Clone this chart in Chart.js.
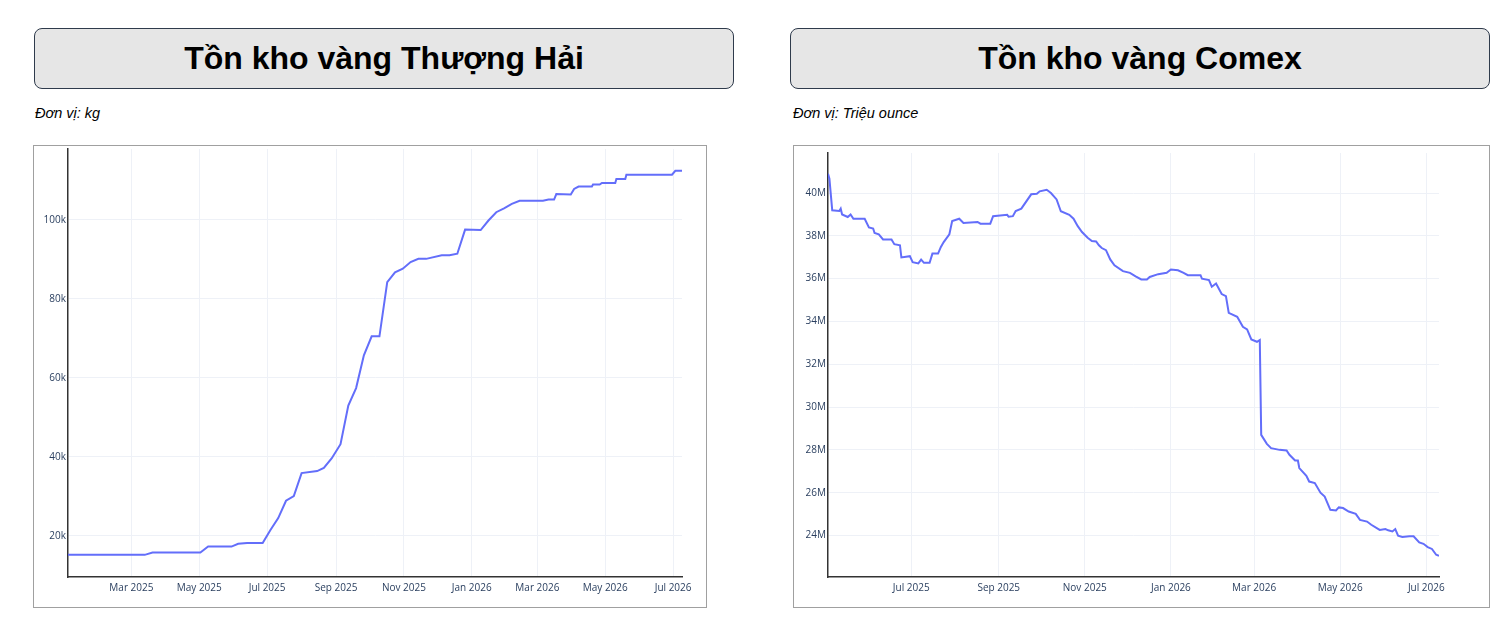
<!DOCTYPE html>
<html lang="vi">
<head>
<meta charset="utf-8">
<title>Tồn kho vàng</title>
<script src="https://cdn.jsdelivr.net/npm/chart.js@4.4.1/dist/chart.umd.min.js"></script>
<style>
    body { margin: 0; background: #fff; font-family: "Liberation Sans", Arial, sans-serif; }
    .title-box {
        position: absolute; top: 28px; height: 61px; box-sizing: border-box;
        border: 1px solid #2f3b4c; border-radius: 8px; background: #e6e6e6;
        display: flex; align-items: center; justify-content: center;
        font-weight: bold; font-size: 32px; color: #000;
    }
    .unit { position: absolute; top: 105px; font-size: 14.5px; font-style: italic; color: #000; }
    .chart-box { position: absolute; top: 145px; height: 463px; box-sizing: border-box; border: 1px solid #a0a0a0; }
    .chart-box canvas { display: block; }
</style>
</head>
<body>
<div class="title-box" style="left:34px;width:700px;">Tồn kho vàng Thượng Hải</div>
<div class="unit" style="left:35px;">Đơn vị: kg</div>
<div class="chart-box" style="left:33px;width:674px;"><canvas id="shanghai-chart" width="672" height="461"></canvas></div>

<div class="title-box" style="left:790px;width:700px;">Tồn kho vàng Comex</div>
<div class="unit" style="left:793px;">Đơn vị: Triệu ounce</div>
<div class="chart-box" style="left:793px;width:697px;"><canvas id="comex-chart" width="695" height="461"></canvas></div>

<script>
// Shanghai gold inventory (kg), weekly
const shanghaiDates = ['2025-01-03','2025-03-13','2025-03-20','2025-05-02','2025-05-09','2025-05-30','2025-06-05','2025-06-13','2025-06-27','2025-07-04',
    '2025-07-11','2025-07-18','2025-07-25','2025-08-01','2025-08-15','2025-08-21','2025-08-28','2025-09-05','2025-09-12','2025-09-19',
    '2025-09-26','2025-10-03','2025-10-10','2025-10-17','2025-10-24','2025-10-31','2025-11-07','2025-11-14','2025-11-21','2025-12-05',
    '2025-12-12','2025-12-19','2025-12-26','2026-01-09','2026-01-16','2026-01-23','2026-01-30','2026-02-06','2026-02-13','2026-03-06',
    '2026-03-11','2026-03-16','2026-03-18','2026-03-31','2026-04-03','2026-04-07','2026-04-19','2026-04-20','2026-04-26','2026-04-28',
    '2026-05-10','2026-05-11','2026-05-19','2026-05-20','2026-06-30','2026-07-03','2026-07-09'];
const shanghaiValues = [15200,15200,15800,15800,17300,17300,18000,18200,18200,21500,
    24500,28900,30100,35900,36400,37200,39600,43200,53000,57400,
    65700,70500,70500,84200,86700,87600,89300,90100,90100,91000,
    91000,91400,97500,97400,99800,101900,102900,104000,104800,104800,
    105100,105100,106500,106400,107800,108400,108400,108900,108900,109300,
    109300,110300,110300,111400,111400,112400,112400];
const shanghaiXTicks = ['2025-03-01','2025-05-01','2025-07-01','2025-09-01','2025-11-01','2026-01-01','2026-03-01','2026-05-01','2026-07-01'];
const shanghaiYTicks = [20000, 40000, 60000, 80000, 100000];

// Comex gold inventory (million oz)
const comexDates = ['2025-05-03','2025-05-04','2025-05-06','2025-05-11','2025-05-12','2025-05-13','2025-05-17','2025-05-19','2025-05-21','2025-05-29',
    '2025-06-01','2025-06-04','2025-06-05','2025-06-08','2025-06-11','2025-06-17','2025-06-19','2025-06-23','2025-06-24','2025-06-30',
    '2025-07-02','2025-07-06','2025-07-08','2025-07-10','2025-07-14','2025-07-16','2025-07-20','2025-07-22','2025-07-24','2025-07-28',
    '2025-07-30','2025-08-04','2025-08-07','2025-08-17','2025-08-19','2025-08-26','2025-08-28','2025-09-07','2025-09-08','2025-09-11',
    '2025-09-13','2025-09-17','2025-09-24','2025-09-28','2025-09-30','2025-10-05','2025-10-08','2025-10-12','2025-10-15','2025-10-21',
    '2025-10-24','2025-10-27','2025-10-30','2025-11-03','2025-11-06','2025-11-09','2025-11-11','2025-11-13','2025-11-16','2025-11-19',
    '2025-11-22','2025-11-28','2025-12-03','2025-12-07','2025-12-11','2025-12-15','2025-12-17','2025-12-23','2025-12-29','2026-01-01',
    '2026-01-06','2026-01-10','2026-01-13','2026-01-22','2026-01-23','2026-01-28','2026-01-30','2026-02-02','2026-02-06','2026-02-09',
    '2026-02-11','2026-02-17','2026-02-21','2026-02-24','2026-02-27','2026-03-03','2026-03-05','2026-03-06','2026-03-10','2026-03-13',
    '2026-03-19','2026-03-24','2026-03-26','2026-03-30','2026-04-01','2026-04-02','2026-04-07','2026-04-09','2026-04-13','2026-04-17',
    '2026-04-20','2026-04-24','2026-04-28','2026-04-30','2026-05-03','2026-05-07','2026-05-12','2026-05-15','2026-05-20','2026-05-23',
    '2026-05-29','2026-06-02','2026-06-04','2026-06-07','2026-06-09','2026-06-11','2026-06-14','2026-06-19','2026-06-22','2026-06-26',
    '2026-06-29','2026-07-02','2026-07-05','2026-07-08','2026-07-10'];
const comexValues = [40.90,40.67,39.19,39.16,39.27,39.00,38.88,39.00,38.80,38.80,
    38.39,38.34,38.13,38.07,37.83,37.83,37.61,37.56,36.99,37.05,
    36.77,36.71,36.89,36.74,36.74,37.17,37.17,37.48,37.71,38.07,
    38.69,38.80,38.60,38.65,38.57,38.57,38.92,38.98,38.89,38.92,
    39.16,39.27,39.94,39.97,40.08,40.15,40.00,39.70,39.15,38.98,
    38.80,38.45,38.18,37.91,37.76,37.74,37.56,37.43,37.33,36.90,
    36.62,36.35,36.27,36.11,35.96,35.96,36.08,36.21,36.27,36.43,
    36.39,36.27,36.16,36.16,36.00,35.93,35.62,35.77,35.28,35.18,
    34.40,34.22,33.75,33.63,33.16,33.05,33.13,28.70,28.28,28.08,
    28.00,27.97,27.77,27.50,27.50,27.15,26.79,26.52,26.45,26.00,
    25.82,25.20,25.17,25.31,25.28,25.12,25.01,24.73,24.65,24.50,
    24.26,24.30,24.24,24.19,24.30,23.99,23.93,23.96,23.96,23.68,
    23.61,23.46,23.37,23.10,23.05];
const comexXTicks = ['2025-07-01','2025-09-01','2025-11-01','2026-01-01','2026-03-01','2026-05-01','2026-07-01'];
const comexYTicks = [24, 26, 28, 30, 32, 34, 36, 38, 40];

const MONTHS = ['Jan','Feb','Mar','Apr','May','Jun','Jul','Aug','Sep','Oct','Nov','Dec'];
const LINE_COLOR = '#636efa';
const GRID_COLOR = '#eef1f7';
const TICK_COLOR = '#2a3f5f';
const TICK_FONT = { family: '"Open Sans", "Liberation Sans", sans-serif', size: 10 };

function monthLabel(ms) {
    const d = new Date(ms);
    return MONTHS[d.getUTCMonth()] + ' ' + d.getUTCFullYear();
}

// drop the label overflow padding so the layout padding alone places the plot area
function noLabelPadding(scale) {
    scale.paddingTop = 0;
    scale.paddingBottom = 0;
    scale.paddingLeft = 0;
    scale.paddingRight = 0;
}

function makeChart(canvasId, dates, values, xTicks, yTicks, yRange, yFormat, padding) {
    const points = dates.map((d, i) => ({ x: Date.parse(d), y: values[i] }));
    return new Chart(document.getElementById(canvasId), {
        type: 'line',
        data: {
            datasets: [{
                data: points,
                borderColor: LINE_COLOR,
                borderWidth: 2,
                pointRadius: 0,
                tension: 0,
                fill: false
            }]
        },
        options: {
            responsive: false,
            animation: false,
            layout: { padding: padding },
            plugins: { legend: { display: false }, tooltip: { enabled: false } },
            scales: {
                x: {
                    type: 'linear',
                    min: points[0].x,
                    max: points[points.length - 1].x,
                    afterBuildTicks: scale => { scale.ticks = xTicks.map(t => ({ value: Date.parse(t) })); },
                    afterFit: scale => { scale.height = 30; noLabelPadding(scale); },
                    grid: { color: GRID_COLOR, drawTicks: false },
                    border: { display: true, color: '#333', width: 1.5 },
                    ticks: { color: TICK_COLOR, font: TICK_FONT, padding: 5, maxRotation: 0, callback: v => monthLabel(v) }
                },
                y: {
                    min: yRange[0],
                    max: yRange[1],
                    afterBuildTicks: scale => { scale.ticks = yTicks.map(v => ({ value: v })); },
                    afterFit: scale => { scale.width = 34; noLabelPadding(scale); },
                    grid: { color: GRID_COLOR, drawTicks: false },
                    border: { display: true, color: '#333', width: 1.5 },
                    ticks: { color: TICK_COLOR, font: TICK_FONT, padding: 2, callback: yFormat }
                }
            }
        }
    });
}

makeChart('shanghai-chart', shanghaiDates, shanghaiValues, shanghaiXTicks, shanghaiYTicks,
    [9600, 117900], v => (v / 1000) + 'k', { top: 3, right: 24, bottom: 0, left: 0 });

makeChart('comex-chart', comexDates, comexValues, comexXTicks, comexYTicks,
    [22.06, 41.87], v => v + 'M', { top: 7, right: 50, bottom: 0, left: 0 });
</script>
</body>
</html>
